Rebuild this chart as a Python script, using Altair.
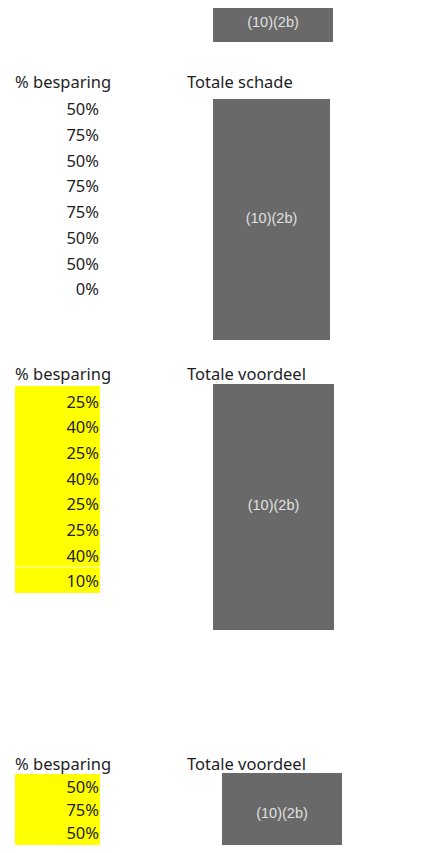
import altair as alt
import pandas as pd

# ---- data ----
left_header = "% besparing"
right_headers = ["Totale schade", "Totale voordeel", "Totale voordeel"]
besparing_schade = [50, 75, 50, 75, 75, 50, 50, 0]
besparing_voordeel = [25, 40, 25, 40, 25, 25, 40, 10]
besparing_voordeel_2 = [50, 75, 50]
redaction_label = "(10)(2b)"

# ---- layout (page pixel grid) ----
W, H = 423, 853
M = 8
P = 3  # inner padding of the svg
sections = [
    dict(head=83, first=110, step=25.75, values=besparing_schade, yellow=None),
    dict(head=375, first=402.5, step=25.7, values=besparing_voordeel, yellow=(386, 593)),
    dict(head=765, first=788, step=23, values=besparing_voordeel_2, yellow=(774, 860)),
]
gray_boxes = [(213, 333, 3, 42), (213, 330, 99, 340), (213, 334, 384, 630), (222, 342, 773, 860)]

rect_rows = []
for (x0, x1, y0, y1) in gray_boxes:
    rect_rows.append(dict(x=x0, x2=x1, y=y0, y2=y1, c="#696969"))
for s in sections:
    if s["yellow"]:
        rect_rows.append(dict(x=15, x2=100, y=s["yellow"][0], y2=s["yellow"][1], c="#ffff00"))
rects = pd.DataFrame(rect_rows)

head_rows = []
val_rows = []
for s, rh in zip(sections, right_headers):
    head_rows.append(dict(t=left_header, x=15, y=s["head"]))
    head_rows.append(dict(t=rh, x=187, y=s["head"]))
    for i, v in enumerate(s["values"]):
        val_rows.append(dict(t=f"{v}%", x=99, y=s["first"] + i * s["step"]))
heads = pd.DataFrame(head_rows)
vals = pd.DataFrame(val_rows)

label_y = [22.5, 219, 506, 814]
labels = pd.DataFrame([dict(t=redaction_label, x=(b[0] + b[1]) / 2, y=ly) for b, ly in zip(gray_boxes, label_y)])

sep = pd.DataFrame([dict(x=15, x2=100, y=567)])

X = alt.Scale(domain=[M + P, W - M - P], range=[0, W - 2 * M - 2 * P], nice=False, zero=False)
Y = alt.Scale(domain=[M + P, H - M - P], range=[0, H - 2 * M - 2 * P], nice=False, zero=False)

def xy():
    return dict(x=alt.X("x:Q", scale=X, axis=None), y=alt.Y("y:Q", scale=Y, axis=None))

rect_layer = alt.Chart(rects).mark_rect().encode(
    x=alt.X("x:Q", scale=X, axis=None), x2="x2:Q",
    y=alt.Y("y:Q", scale=Y, axis=None), y2="y2:Q",
    color=alt.Color("c:N", scale=None),
)
sep_layer = alt.Chart(sep).mark_rule(color="#fbfbc0", strokeWidth=1).encode(
    x=alt.X("x:Q", scale=X, axis=None), x2="x2:Q", y=alt.Y("y:Q", scale=Y, axis=None)
)
head_layer = alt.Chart(heads).mark_text(
    align="left", baseline="middle", font="Noto Sans", fontSize=16.5, color="#1e1e1e"
).encode(text="t:N", **xy())
val_layer = alt.Chart(vals).mark_text(
    align="right", baseline="middle", font="Noto Sans", fontSize=16.5, color="#1e1e1e"
).encode(text="t:N", **xy())
lab_layer = alt.Chart(labels).mark_text(
    align="center", baseline="middle", font="Liberation Sans", fontSize=14.5, color="#e0e0e0"
).encode(text="t:N", **xy())

chart = alt.layer(rect_layer, sep_layer, head_layer, val_layer, lab_layer).properties(
    width=W - 2 * M - 2 * P, height=H - 2 * M - 2 * P, padding=P,
    autosize=alt.AutoSizeParams(type="none")
).configure_view(strokeWidth=0, fill="white")

chart.save("out.html", embed_options={"renderer": "svg", "actions": False})
